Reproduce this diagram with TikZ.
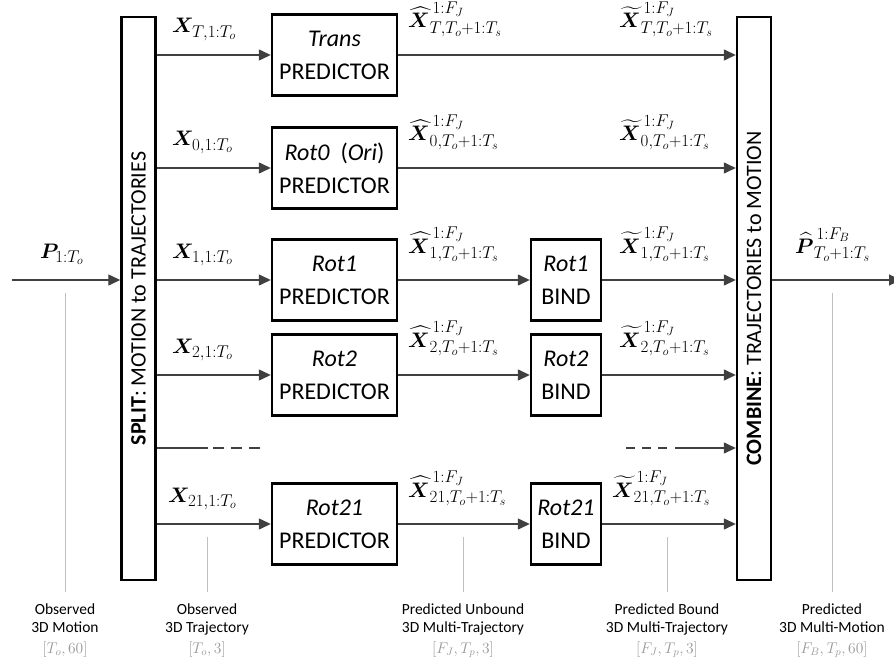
\RequirePackage{fix-cm}
\documentclass[tikz,border=0pt]{standalone}
\usepackage{amsmath}
\usepackage{bm}
\usepackage{fontspec}
\setmainfont{Carlito}
\usetikzlibrary{arrows.meta}
\DeclareMathSizes{21}{21}{17}{12}
\newcommand{\acc}[4]{{#1{\bm{#2}}\rule[-5pt]{0pt}{25pt}}^{\mkern3mu#3}_{#4}}
\tikzset{
  conn/.style={draw=black!75, line width=1.3pt, -{Triangle[length=12pt,width=11pt]}},
  plainline/.style={draw=black!75, line width=1.3pt},
  dashline/.style={draw=black!75, line width=1.3pt, dash pattern=on 11pt off 7pt},
  box/.style={draw, line width=2.4pt, font=\fontsize{24}{33}\selectfont, align=center, inner sep=0pt},
  predbox/.style={box, minimum width=125pt, minimum height=81pt},
  bindbox/.style={box, minimum width=70pt, minimum height=81pt},
  tallbox/.style={draw, line width=2.4pt, minimum width=34pt, minimum height=563pt, inner sep=0pt},
  talltext/.style={rotate=90, font=\fontsize{22}{26}\selectfont, inner sep=0pt},
  lbl/.style={font=\fontsize{21}{25}\selectfont, inner sep=0pt, anchor=base west},
  guide/.style={draw=black!25, line width=1pt},
  note/.style={font=\fontsize{15.5}{19}\selectfont, inner sep=0pt, anchor=base},
  dimnote/.style={note, text=black!40},
}
\begin{document}
\begin{tikzpicture}[x=1pt,y=-1pt]
\useasboundingbox (0,0) rectangle (894,666);

% tall boxes
\node[tallbox] (split) at (138.5,298.5) {};
\node[talltext] (splittxt) at (split.center) {\textbf{SPLIT}: MOTION to TRAJECTORIES};
\node[tallbox] (comb) at (754,298.5) {};
\node[talltext] (combtxt) at (comb.center) {\textbf{COMBINE}: TRAJECTORIES to MOTION};

% predictors
\node[predbox] (pT) at (334.5,55) {\textit{Trans}\\PREDICTOR};
\node[predbox] (p0) at (334.5,168) {\textit{Rot0}\ \ (\textit{Ori})\\PREDICTOR};
\node[predbox] (p1) at (334.5,280) {\textit{Rot1}\\PREDICTOR};
\node[predbox] (p2) at (334.5,375) {\textit{Rot2}\\PREDICTOR};
\node[predbox] (p21) at (334.5,524) {\textit{Rot21}\\PREDICTOR};

% binders
\node[bindbox] (b1) at (566,280) {\textit{Rot1}\\BIND};
\node[bindbox] (b2) at (566,375) {\textit{Rot2}\\BIND};
\node[bindbox] (b21) at (566,524) {\textit{Rot21}\\BIND};

% input / output
\coordinate (pin) at (12,280);
\coordinate (pout) at (901,280);
\draw[conn] (pin) -- (split.west |- pin);
\draw[conn] (comb.east |- pout) -- (pout);
\node[lbl] (lP) at (40,258) {$\bm{P}_{1:T_o}$};
\node[lbl] (lPh) at (795,253) {$\acc{\widehat}{P}{1:F_B}{T_o+1:T_s}$};

% split -> predictors
\foreach \p in {pT,p0,p1,p2,p21}{
  \draw[conn] (split.east |- \p.west) -- (\p.west);
}
% predictors -> combine
\draw[conn] (pT.east) -- (comb.west |- pT.east);
\draw[conn] (p0.east) -- (comb.west |- p0.east);
% predictors -> binders -> combine
\foreach \i in {1,2,21}{
  \draw[conn] (p\i.east) -- (b\i.west);
  \draw[conn] (b\i.east) -- (comb.west |- b\i.east);
}

% dashed row
\coordinate (dl1) at (208,448);
\coordinate (dl2) at (213,448);
\coordinate (dl3) at (262,448);
\draw[plainline] (split.east |- dl1) -- (dl1);
\draw[dashline] (dl2) -- (dl3);
\coordinate (dr1) at (626,448);
\coordinate (dr2) at (668,448);
\coordinate (dr3) at (675,448);
\draw[dashline, dash pattern=on 9pt off 7pt] (dr1) -- (dr2);
\draw[conn] (dr3) -- (comb.west |- dr3);

% labels on connectors
\node[lbl] (xT) at (172,33) {$\bm{X}_{T,1:T_o}$};
\node[lbl] (x0) at (172,146) {$\bm{X}_{0,1:T_o}$};
\node[lbl] (x1) at (172,258) {$\bm{X}_{1,1:T_o}$};
\node[lbl] (x2) at (172,353) {$\bm{X}_{2,1:T_o}$};
\node[lbl] (x21) at (168,502) {$\bm{X}_{21,1:T_o}$};

\node[lbl] (hT) at (408,28) {$\acc{\widehat}{X}{1:F_J}{T,T_o+1:T_s}$};
\node[lbl] (h0) at (408,141) {$\acc{\widehat}{X}{1:F_J}{0,T_o+1:T_s}$};
\node[lbl] (h1) at (408,253) {$\acc{\widehat}{X}{1:F_J}{1,T_o+1:T_s}$};
\node[lbl] (h2) at (408,347) {$\acc{\widehat}{X}{1:F_J}{2,T_o+1:T_s}$};
\node[lbl] (h21) at (408,497) {$\acc{\widehat}{X}{1:F_J}{21,T_o+1:T_s}$};

\node[lbl] (tT) at (619,28) {$\acc{\widetilde}{X}{1:F_J}{T,T_o+1:T_s}$};
\node[lbl] (t0) at (619,141) {$\acc{\widetilde}{X}{1:F_J}{0,T_o+1:T_s}$};
\node[lbl] (t1) at (619,253) {$\acc{\widetilde}{X}{1:F_J}{1,T_o+1:T_s}$};
\node[lbl] (t2) at (619,347) {$\acc{\widetilde}{X}{1:F_J}{2,T_o+1:T_s}$};
\node[lbl] (t21) at (612,497) {$\acc{\widetilde}{X}{1:F_J}{21,T_o+1:T_s}$};

% guides
\draw[guide] (65,293) -- (65,592);
\draw[guide] (207,537) -- (207,592);
\draw[guide] (463,537) -- (463,592);
\draw[guide] (667,537) -- (667,592);
\draw[guide] (832,293) -- (832,592);

% bottom notes
\foreach \x/\la/\lb/\lc [count=\i] in {
  65/Observed/3D Motion/{$[T_o,60]$},
  207/Observed/3D Trajectory/{$[T_o,3]$},
  463/Predicted Unbound/3D Multi-Trajectory/{$[F_J,T_p,3]$},
  667/Predicted Bound/3D Multi-Trajectory/{$[F_J,T_p,3]$},
  832/Predicted/3D Multi-Motion/{$[F_B,T_p,60]$}}{
  \node[note] (na\i) at (\x,614) {\la};
  \node[note] (nb\i) at (\x,632) {\lb};
  \node[dimnote] (nc\i) at (\x,653) {\lc};
}
\end{tikzpicture}
\end{document}
